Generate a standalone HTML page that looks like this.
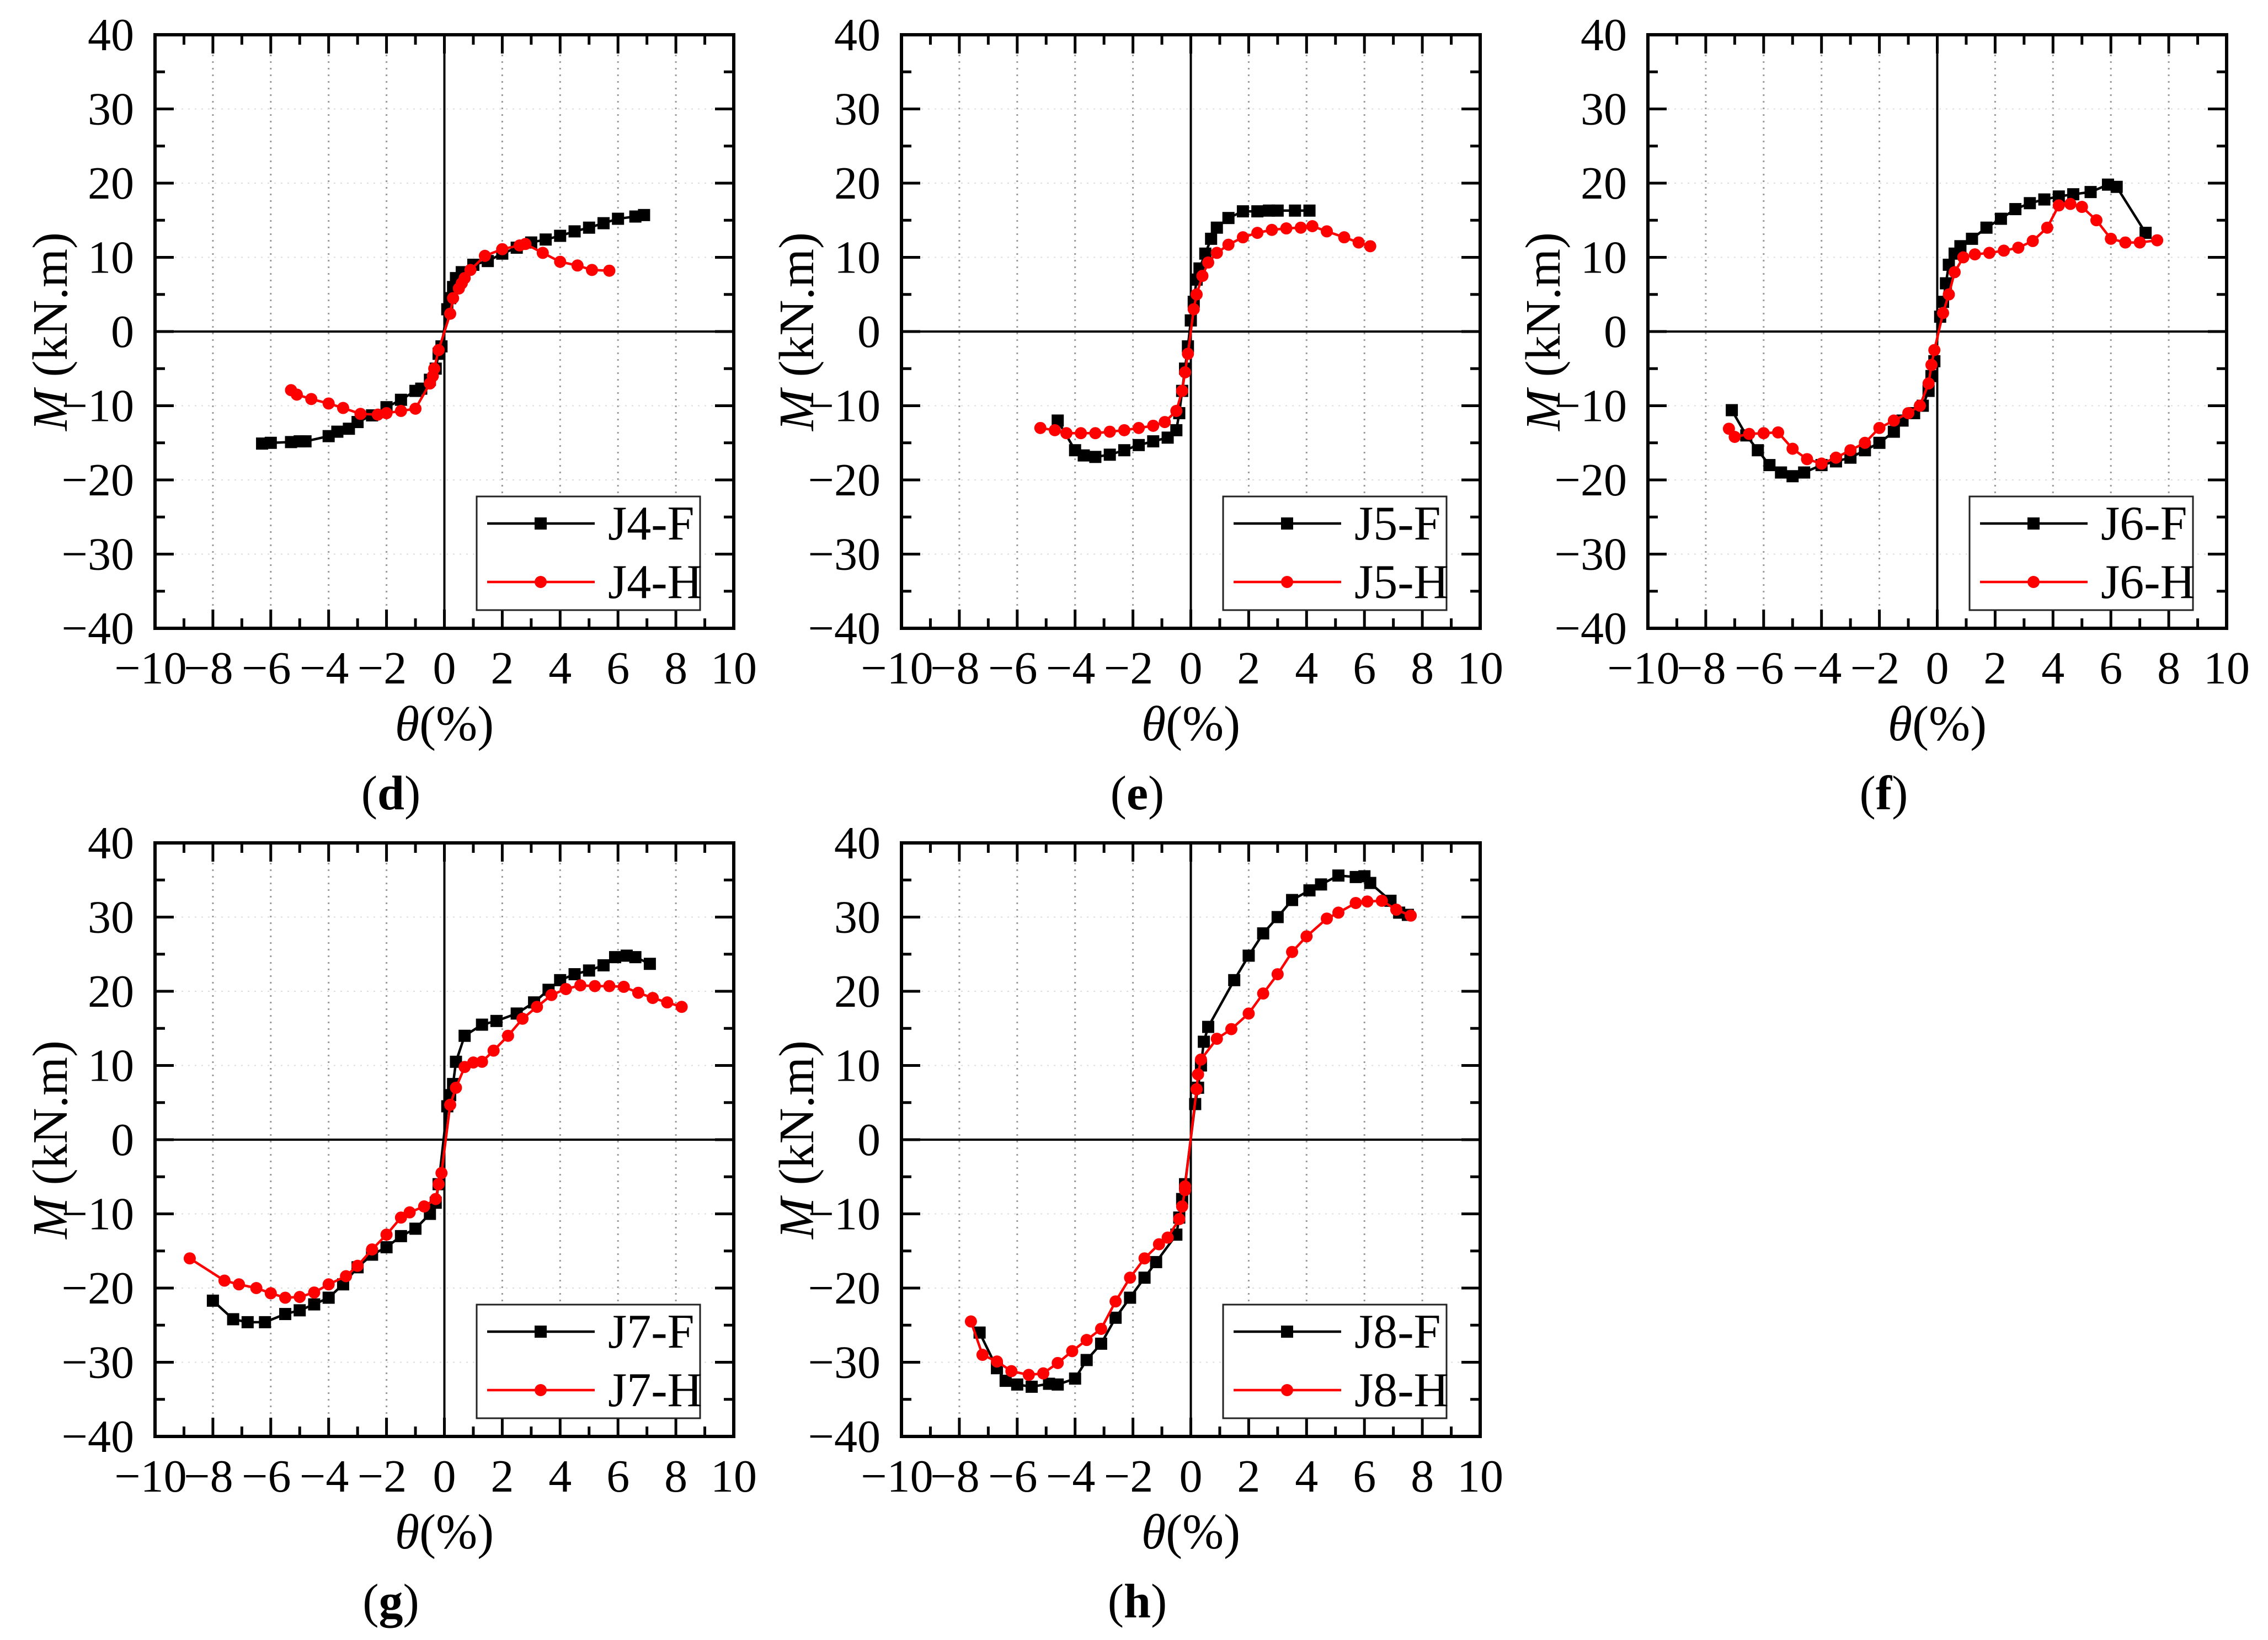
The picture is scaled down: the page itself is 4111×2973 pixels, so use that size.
<!DOCTYPE html>
<html><head><meta charset="utf-8"><style>
html,body{margin:0;padding:0;background:#fff}
svg{display:block}
text{font-family:"Liberation Serif",serif;fill:#000}
</style></head><body>
<svg id="fig" width="4111" height="2973" viewBox="0 0 4111 2973" xmlns="http://www.w3.org/2000/svg"></svg>
<script>
const j4F=[[-6.3,-15.1],[-6,-15],[-5.3,-14.9],[-5,-14.8],[-4.8,-14.8],[-4,-14.1],[-3.7,-13.5],[-3.3,-13.1],[-3,-12.2],[-2.5,-11.3],[-2,-10.2],[-1.5,-9.2],[-1,-8],[-0.8,-7.7],[-0.5,-6.5],[-0.3,-5],[-0.2,-3],[-0.1,-2],[0.1,3],[0.2,4.5],[0.3,6],[0.4,7.2],[0.6,8],[1,9],[1.5,9.5],[2,10.5],[2.5,11.3],[3,12],[3.5,12.4],[4,12.9],[4.5,13.5],[5,14],[5.5,14.6],[6,15.2],[6.6,15.5],[6.9,15.7]];
const j4H=[[-5.3,-7.9],[-5.1,-8.5],[-4.6,-9.1],[-4,-9.7],[-3.5,-10.3],[-2.9,-11.1],[-2.3,-11.2],[-2,-11],[-1.5,-10.7],[-1,-10.4],[-0.5,-7],[-0.4,-6],[-0.35,-5],[-0.2,-2.5],[0.2,2.4],[0.3,4.5],[0.5,5.8],[0.6,6.5],[0.7,7.2],[0.9,8.3],[1.4,10.2],[2,11.1],[2.6,11.6],[2.8,11.8],[3.4,10.6],[4,9.4],[4.6,8.9],[5.1,8.3],[5.7,8.2]];
const j5F=[[-4.6,-12],[-4,-16],[-3.7,-16.7],[-3.3,-16.9],[-2.8,-16.6],[-2.3,-16],[-1.8,-15.3],[-1.3,-14.8],[-0.8,-14.3],[-0.5,-13.3],[-0.4,-11],[-0.3,-8],[-0.2,-5],[-0.1,-2],[0,1.5],[0.1,4],[0.2,7],[0.3,8.5],[0.5,10.5],[0.7,12.5],[0.9,14],[1.3,15.3],[1.8,16.2],[2.3,16.2],[2.7,16.3],[3,16.3],[3.6,16.3],[4.1,16.3]];
const j5H=[[-5.2,-13],[-4.7,-13.3],[-4.3,-13.7],[-3.8,-13.7],[-3.3,-13.7],[-2.8,-13.5],[-2.3,-13.3],[-1.8,-13],[-1.3,-12.7],[-0.9,-12.2],[-0.5,-10.7],[-0.3,-8],[-0.2,-5.5],[-0.1,-3],[0.1,3],[0.2,5],[0.4,7.5],[0.6,9.3],[0.9,10.6],[1.3,11.7],[1.8,12.7],[2.3,13.3],[2.8,13.7],[3.3,13.9],[3.8,14],[4.2,14.2],[4.7,13.5],[5.3,12.7],[5.8,12],[6.2,11.5]];
const j6F=[[-7.1,-10.6],[-6.6,-14],[-6.2,-16],[-5.8,-18],[-5.4,-19],[-5,-19.5],[-4.6,-19],[-4,-18],[-3.5,-17.5],[-3,-17],[-2.5,-16],[-2,-15],[-1.5,-13.5],[-1.2,-12],[-0.8,-11],[-0.5,-10],[-0.3,-8],[-0.2,-6],[-0.1,-4],[0.1,2],[0.2,4],[0.3,6.5],[0.4,9],[0.6,10.5],[0.8,11.5],[1.2,12.5],[1.7,14],[2.2,15.2],[2.7,16.5],[3.2,17.3],[3.7,17.8],[4.2,18.2],[4.7,18.5],[5.3,18.8],[5.9,19.8],[6.2,19.5],[7.2,13.3]];
const j6H=[[-7.2,-13.1],[-7,-14.2],[-6.5,-13.8],[-6,-13.7],[-5.5,-13.6],[-5,-15.8],[-4.5,-17.2],[-4,-17.8],[-3.5,-17],[-3,-16],[-2.5,-15],[-2,-13],[-1.5,-12],[-1,-11],[-0.6,-10],[-0.3,-7],[-0.2,-4.5],[-0.1,-2.5],[0.2,2.5],[0.4,5],[0.6,8],[0.9,10],[1.3,10.4],[1.8,10.6],[2.3,10.9],[2.8,11.3],[3.3,12.2],[3.8,14],[4.2,17],[4.6,17.2],[5,16.8],[5.5,15],[6,12.5],[6.5,12],[7,12],[7.6,12.3]];
const j7F=[[-8,-21.7],[-7.3,-24.2],[-6.8,-24.6],[-6.2,-24.6],[-5.5,-23.5],[-5,-23],[-4.5,-22.2],[-4,-21.3],[-3.5,-19.5],[-3,-17.2],[-2.5,-15.5],[-2,-14.5],[-1.5,-13],[-1,-12],[-0.5,-10],[-0.3,-8.5],[-0.2,-6],[0.1,4.5],[0.2,6],[0.3,7.5],[0.4,10.5],[0.7,14],[1.3,15.5],[1.8,16],[2.5,17],[3.1,18.5],[3.6,20.2],[4,21.5],[4.5,22.3],[5,22.8],[5.5,23.5],[5.9,24.6],[6.3,24.8],[6.6,24.6],[7.1,23.7]];
const j7H=[[-8.8,-16],[-7.6,-19],[-7.1,-19.5],[-6.5,-20],[-6,-20.7],[-5.5,-21.3],[-5,-21.2],[-4.5,-20.6],[-4,-19.5],[-3.4,-18.4],[-3,-17],[-2.5,-14.8],[-2,-12.8],[-1.5,-10.5],[-1.2,-9.8],[-0.7,-9],[-0.3,-8],[-0.2,-6],[-0.1,-4.5],[0.2,4.7],[0.4,7],[0.7,9.8],[1,10.4],[1.3,10.5],[1.7,12],[2.2,14],[2.7,16.3],[3.2,17.9],[3.7,19.5],[4.2,20.3],[4.7,20.8],[5.2,20.7],[5.7,20.7],[6.2,20.6],[6.7,19.8],[7.2,19.1],[7.7,18.5],[8.2,17.9]];
const j8F=[[-7.3,-26],[-6.7,-30.8],[-6.4,-32.5],[-6,-33],[-5.5,-33.3],[-4.9,-32.9],[-4.6,-33],[-4,-32.2],[-3.6,-29.7],[-3.1,-27.5],[-2.6,-24],[-2.1,-21.3],[-1.6,-18.6],[-1.2,-16.5],[-0.5,-12.8],[-0.4,-10.5],[-0.3,-8],[-0.2,-6],[0.15,4.8],[0.25,7],[0.35,10],[0.45,13.2],[0.6,15.2],[1.5,21.5],[2,24.8],[2.5,27.8],[3,30],[3.5,32.3],[4.1,33.6],[4.5,34.4],[5.1,35.6],[5.7,35.4],[6,35.5],[6.2,34.6],[6.9,32.2],[7.2,30.6],[7.5,30.3]];
const j8H=[[-7.6,-24.5],[-7.2,-29],[-6.7,-29.9],[-6.2,-31.2],[-5.6,-31.7],[-5.1,-31.5],[-4.6,-30.1],[-4.1,-28.5],[-3.6,-27],[-3.1,-25.5],[-2.6,-21.8],[-2.1,-18.6],[-1.6,-16],[-1.1,-14.1],[-0.8,-13.2],[-0.4,-10.7],[-0.3,-9],[-0.2,-6.8],[-0.2,-6.3],[0.2,6.8],[0.25,8.8],[0.35,10.8],[0.9,13.6],[1.4,14.9],[2,17],[2.5,19.7],[3,22.3],[3.5,25.3],[4,27.4],[4.7,29.8],[5.1,30.6],[5.7,31.9],[6.1,32.1],[6.6,32.2],[7.1,31],[7.6,30.2]];
const xTicks=[-10,-8,-6,-4,-2,0,2,4,6,8,10];
const yTicks=[-40,-30,-20,-10,0,10,20,30,40];
const panelNames=["d","e","f","g","h"];
const specimenNames=["J4","J5","J6","J7","J8"];
const seriesF=[j4F,j5F,j6F,j7F,j8F];
const seriesH=[j4H,j5H,j6H,j7H,j8H];

const NS="http://www.w3.org/2000/svg";
const svg=document.getElementById('fig');
function mk(tag,attrs,parent,txt){const e=document.createElementNS(NS,tag);for(const k in attrs)e.setAttribute(k,attrs[k]);if(txt!==undefined)e.textContent=txt;parent.appendChild(e);return e;}
const origins=[[281,63],[1634,63],[2987,63],[281,1528],[1634,1528]];
const W=1049,H=1076;
function fmt(v){return v<0?"\u2212"+Math.abs(v):String(v);}
for(let p=0;p<5;p++){
  const [L,T]=origins[p];
  const X=v=>L+(v+10)/20*W;
  const Y=v=>T+(40-v)/80*H;
  const g=mk('g',{},svg);
  
  
  for(let v=-8;v<=8;v+=2){if(v===0)continue;const l=mk('line',{x1:X(v),x2:X(v),y1:T,y2:T+H,stroke:'#999','stroke-width':3,'stroke-dasharray':'3 9'},g);
    }
  for(let v=-30;v<=30;v+=10){if(v===0)continue;const l=mk('line',{x1:L,x2:L+W,y1:Y(v),y2:Y(v),stroke:'#ddd','stroke-width':2,'stroke-dasharray':'3 9'},g);
    }
  mk('line',{x1:X(0),x2:X(0),y1:T,y2:T+H,stroke:'#000','stroke-width':4},g);
  mk('line',{x1:L,x2:L+W,y1:Y(0),y2:Y(0),stroke:'#000','stroke-width':4},g);
  for(let v=-10;v<=10;v++){const len=v%2===0?34:18;
    mk('line',{x1:X(v),x2:X(v),y1:T+H,y2:T+H-len,stroke:'#000','stroke-width':5},g);
    mk('line',{x1:X(v),x2:X(v),y1:T,y2:T+len,stroke:'#000','stroke-width':5},g);}
  for(let v=-40;v<=40;v+=5){const len=v%10===0?34:18;
    mk('line',{x1:L,x2:L+len,y1:Y(v),y2:Y(v),stroke:'#000','stroke-width':5},g);
    mk('line',{x1:L+W,x2:L+W-len,y1:Y(v),y2:Y(v),stroke:'#000','stroke-width':5},g);}
  mk('rect',{x:L,y:T,width:W,height:H,fill:'none',stroke:'#000','stroke-width':6},g);
  xTicks.forEach(v=>{const t=mk('text',{x:X(v)-(v<0?8:0),y:T+H+100,'font-size':84,'text-anchor':'middle'},g,fmt(v));
    });
  yTicks.forEach(v=>{const t=mk('text',{x:L-38,y:Y(v)+28,'font-size':84,'text-anchor':'end'},g,fmt(v));
    });
  const xt=mk('text',{x:L+W/2,y:T+H+203,'font-size':90,'text-anchor':'middle'},g);
  
  mk('tspan',{'font-style':'italic'},xt,'\u03b8');mk('tspan',{},xt,'(%)');
  const cy=T+H/2, cx=L-190;
  const yt=mk('text',{x:0,y:30,'font-size':90,'text-anchor':'middle',transform:`translate(${cx} ${cy}) rotate(-90)`},g);
  
  mk('tspan',{'font-style':'italic'},yt,'M');mk('tspan',{},yt,' (kN.m)');
  const pl=mk('text',{x:L+W/2-97,y:T+H+328,'font-size':88,'text-anchor':'middle'},g);
  
  mk('tspan',{},pl,'(');mk('tspan',{'font-weight':'bold'},pl,panelNames[p]);mk('tspan',{},pl,')');
  const draw=(data,color,shape,name)=>{
    const sg=mk('g',{},g);
    
    mk('polyline',{points:data.map(d=>X(d[0])+','+Y(d[1])).join(' '),fill:'none',stroke:color,'stroke-width':4.5,'stroke-linejoin':'round'},sg);
    data.forEach(d=>{let m;
      if(shape==='sq'){m=mk('rect',{x:X(d[0])-11,y:Y(d[1])-11,width:22,height:22,fill:color},sg);}
      else{m=mk('circle',{cx:X(d[0]),cy:Y(d[1]),r:11,fill:color},sg);}
      });
  };
  draw(seriesF[p],'#000','sq',specimenNames[p].toLowerCase()+'-f-series');
  draw(seriesH[p],'#f00','ci',specimenNames[p].toLowerCase()+'-h-series');
  const lx=L+583, ly=T+H-239, lw=W-583-61, lh=206;
  const lg=mk('g',{},g);
  
  mk('rect',{x:lx,y:ly,width:lw,height:lh,fill:'#fff',stroke:'#222','stroke-width':3},lg);
  [[specimenNames[p]+'-F','#000','sq',49],[specimenNames[p]+'-H','#f00','ci',155]].forEach(e=>{
    const eg=mk('g',{},lg);
    
    const ry=ly+e[3];
    mk('line',{x1:lx+19,x2:lx+214,y1:ry,y2:ry,stroke:e[1],'stroke-width':4.5},eg);
    if(e[2]==='sq')mk('rect',{x:lx+105,y:ry-11,width:22,height:22,fill:e[1]},eg);
    else mk('circle',{cx:lx+116,cy:ry,r:11,fill:e[1]},eg);
    mk('text',{x:lx+238,y:ry+29,'font-size':88},eg,e[0]);
  });
}
</script>
</body></html>
